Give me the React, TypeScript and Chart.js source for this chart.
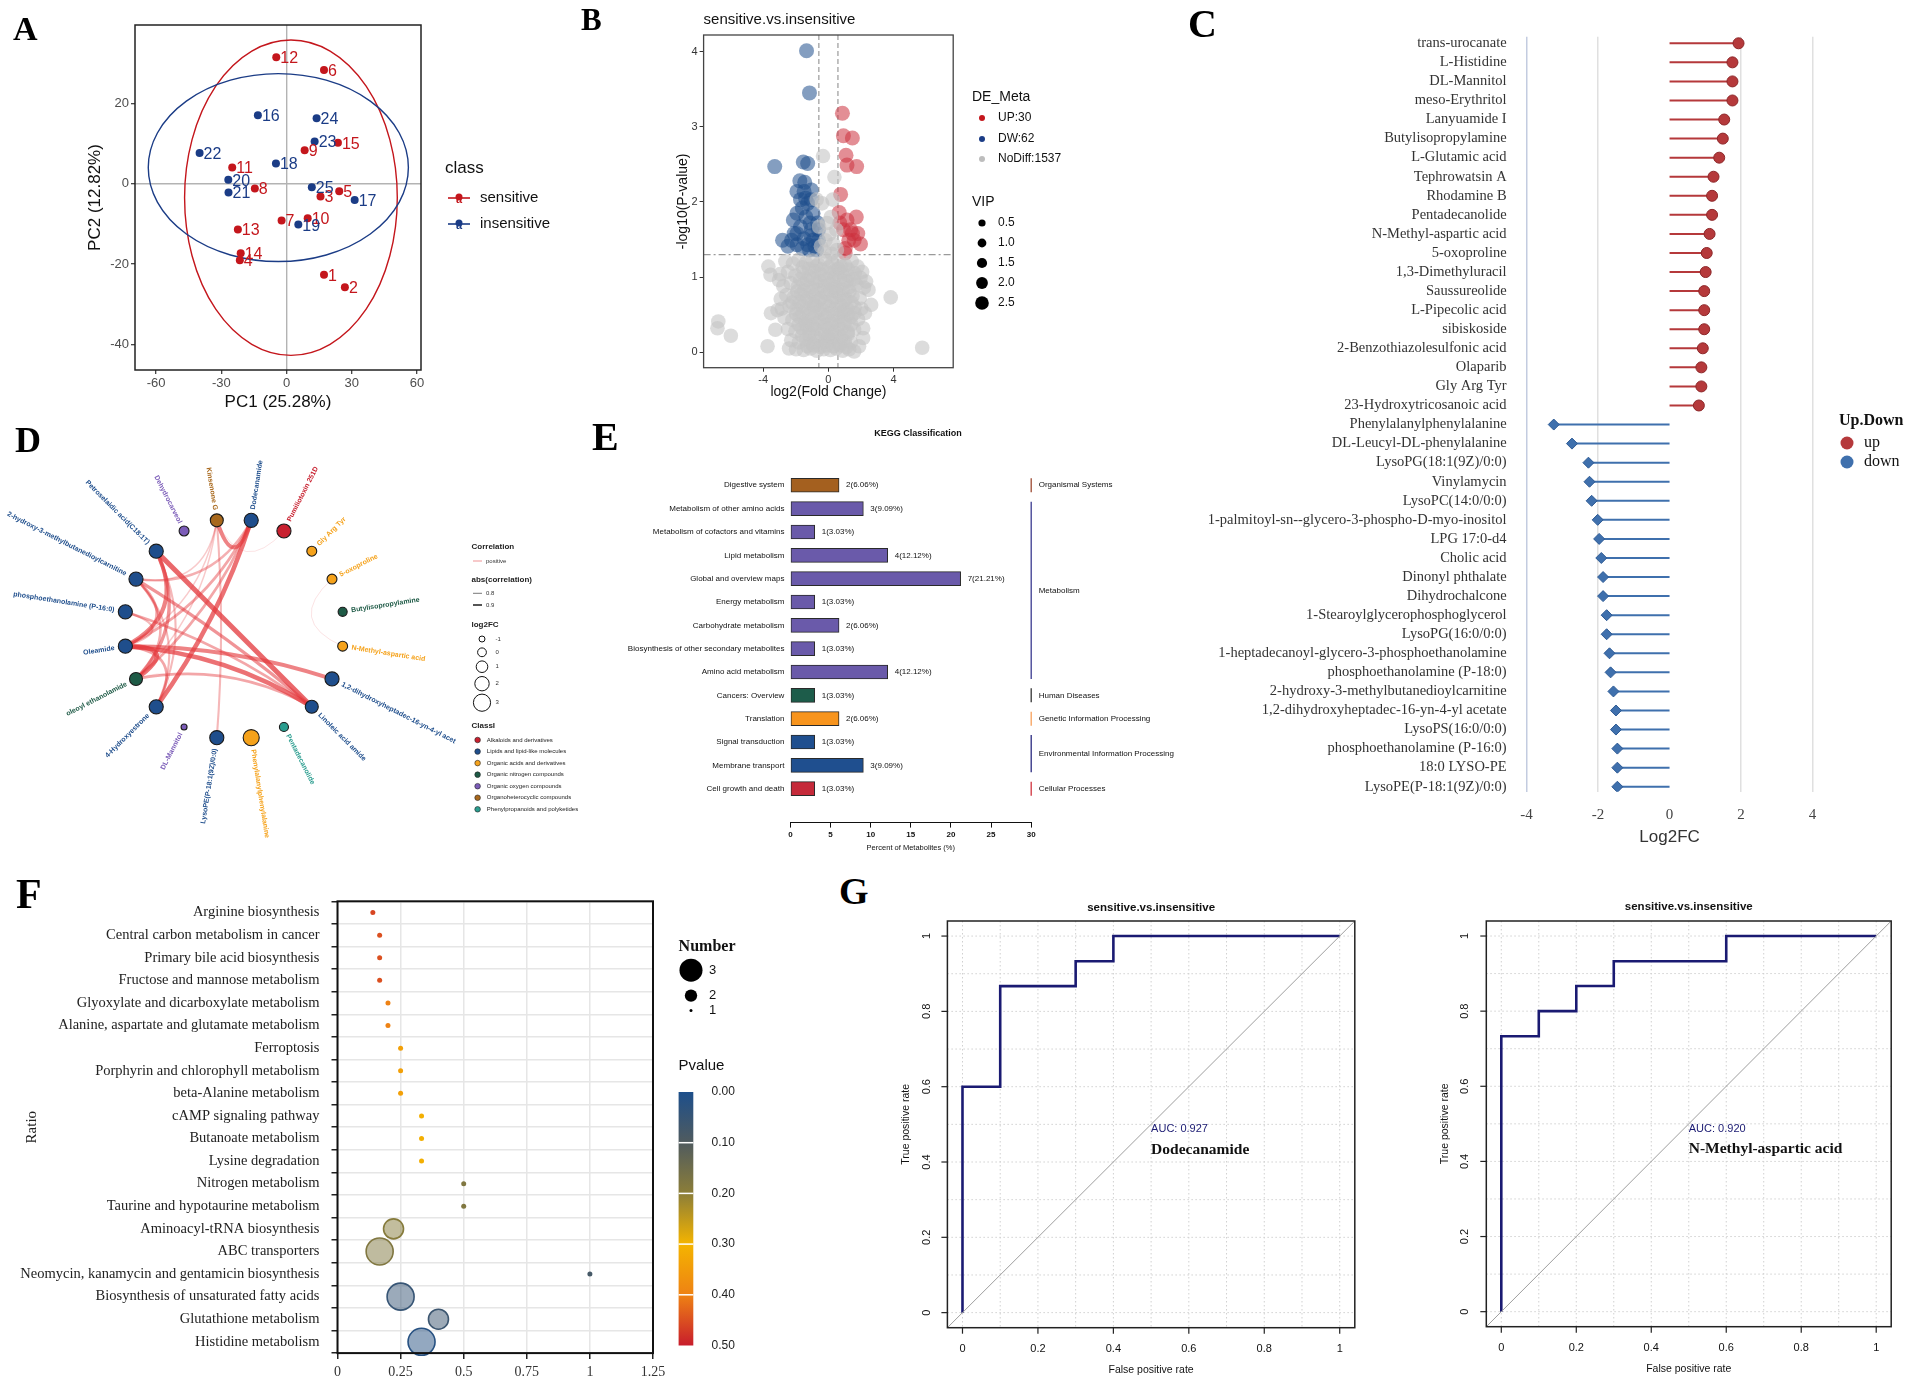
import React, { useEffect, useRef } from "react";
import { Chart, registerables } from "chart.js";

Chart.register(...registerables);

const SANS = '"Liberation Sans", Arial, Helvetica, sans-serif';
const SERIF = '"Liberation Serif", "Times New Roman", Times, serif';

/* ================= A : PCA ================= */
const pcaSensitiveLabels = ["1", "2", "3", "4", "5", "6", "7", "8", "9", "10", "11", "12", "13", "14", "15"];
const pcaSensitivePC1 = [17.2, 26.8, 15.6, -21.5, 24.2, 17.2, -2.3, -14.6, 8.3, 9.7, -25.0, -4.75, -22.4, -21.1, 23.6];
const pcaSensitivePC2 = [-22.7, -25.8, -3.2, -19.1, -1.9, 28.3, -9.2, -1.2, 8.3, -8.6, 4.0, 31.5, -11.4, -17.3, 10.2];
const pcaInsensitiveLabels = ["16", "17", "18", "19", "20", "21", "22", "23", "24", "25"];
const pcaInsensitivePC1 = [-13.2, 31.3, -4.9, 5.4, -26.8, -26.7, -40.0, 12.9, 13.8, 11.6];
const pcaInsensitivePC2 = [17.0, -4.1, 5.0, -10.2, 1.0, -2.2, 7.6, 10.5, 16.3, -0.9];
// confidence ellipses: [sensitive, insensitive]
const pcaEllipseCX = [2.0, -3.8];
const pcaEllipseCY = [-3.5, 4.0];
const pcaEllipseRX = [48.9, 59.8];
const pcaEllipseRY = [39.25, 23.4];
const pcaXTicks = [-60, -30, 0, 30, 60];
const pcaYTicks = [-40, -20, 0, 20];

/* ================= B : volcano ================= */
const volcanoUp: number[][] = [
  [0.86, 3.18], [0.92, 2.88], [1.47, 2.85], [1.08, 2.62], [1.14, 2.49], [1.73, 2.47], [0.75, 2.1], [0.66, 1.86],
  [1.71, 1.8], [1.14, 1.76], [1.36, 1.63], [0.92, 1.63], [1.8, 1.58], [1.97, 1.44], [1.03, 1.32], [1.58, 1.49],
  [1.25, 1.49], [0.7, 1.72], [1.03, 1.38], [1.47, 1.58],
];
const volcanoDown: number[][] = [
  [-1.34, 4.01], [-1.16, 3.45], [-3.29, 2.47], [-1.54, 2.53], [-1.27, 2.51], [-1.45, 2.26], [-1.49, 2.14], [-1.05, 2.16],
  [-1.93, 2.14], [-1.71, 2.03], [-1.27, 1.98], [-0.94, 1.85], [-1.93, 1.85], [-1.38, 1.8], [-2.15, 1.76], [-1.71, 1.67],
  [-1.05, 1.63], [-0.61, 1.63], [-2.81, 1.49], [-2.26, 1.49], [-1.93, 1.58], [-1.49, 1.51], [-0.94, 1.49], [-0.61, 1.49],
  [-1.93, 1.43], [-1.27, 1.43], [-0.83, 1.41], [-2.48, 1.41], [-1.6, 1.38], [-1.16, 1.36], [-0.66, 1.72], [-1.12, 1.72],
  [-1.05, 2.03], [-1.6, 1.92], [-1.75, 2.28], [-2.1, 1.58], [-1.05, 1.55], [-0.72, 1.36], [-1.4, 2.05],
];
const volcanoNoDiff: number[][] = [
  [-0.33, 2.61], [0.37, 2.33], [0.26, 2.03], [-0.39, 1.98], [0.15, 1.8], [0.48, 1.63], [-0.18, 1.49], [-0.72, 2.03],
  [-0.57, 1.67], [0.05, 1.57], [-0.08, 1.72], [0.31, 1.44], [-0.46, 1.41], [0.52, 1.36], [0.21, 1.31], [-0.23, 1.34],
  [-6.75, 0.41], [-6.8, 0.32], [-5.98, 0.22], [-3.73, 0.08], [-3.25, 0.3], [-3.52, 0.52], [3.82, 0.73], [5.75, 0.06],
  [2.24, 0.52], [2.46, 0.83], [2.13, 0.32], [2.13, 0.19], [1.58, 0.01], [-3.68, 1.14], [-3.55, 1.03], [-3.03, 0.96],
  [2.07, 1.07], [2.31, 0.94], [-2.92, 0.71], [-3.12, 0.56], [2.62, 0.63], [-2.41, 0.05], [1.88, 0.08],
  [-2.64, 1.21], [-2.17, 1.18], [-1.83, 1.23], [-1.38, 1.19], [-0.97, 1.22], [-0.62, 1.17], [-0.19, 1.24], [0.23, 1.19],
  [0.58, 1.22], [1.04, 1.16], [1.43, 1.21], [1.79, 1.14],
  [-2.96, 1.04], [-2.48, 1.07], [-2.03, 1.02], [-1.61, 1.06], [-1.17, 1.01], [-0.81, 1.08], [-0.42, 1.03], [0.02, 1.06],
  [0.39, 1.01], [0.83, 1.07], [1.21, 1.02], [1.62, 1.05], [1.97, 0.99],
  [-2.77, 0.88], [-2.31, 0.92], [-1.88, 0.87], [-1.52, 0.91], [-1.08, 0.86], [-0.72, 0.93], [-0.28, 0.88], [0.12, 0.91],
  [0.51, 0.86], [0.93, 0.92], [1.32, 0.87], [1.71, 0.9], [2.18, 0.86],
  [-2.58, 0.76], [-2.12, 0.73], [-1.69, 0.77], [-1.29, 0.72], [-0.88, 0.76], [-0.49, 0.71], [-0.11, 0.77], [0.31, 0.73],
  [0.68, 0.76], [1.09, 0.71], [1.48, 0.75], [1.92, 0.72],
  [-2.86, 0.58], [-2.39, 0.62], [-1.98, 0.57], [-1.58, 0.61], [-1.21, 0.58], [-0.79, 0.62], [-0.41, 0.57], [0.03, 0.61],
  [0.42, 0.58], [0.79, 0.62], [1.18, 0.57], [1.61, 0.6], [2.02, 0.58],
  [-2.69, 0.46], [-2.21, 0.43], [-1.79, 0.47], [-1.41, 0.42], [-0.99, 0.46], [-0.61, 0.43], [-0.19, 0.47], [0.22, 0.42],
  [0.61, 0.46], [0.98, 0.43], [1.39, 0.47], [1.82, 0.44],
  [-2.48, 0.31], [-2.02, 0.28], [-1.62, 0.32], [-1.18, 0.27], [-0.82, 0.31], [-0.38, 0.29], [0.01, 0.32], [0.41, 0.28],
  [0.79, 0.31], [1.19, 0.27], [1.58, 0.3],
  [-2.28, 0.16], [-1.81, 0.13], [-1.39, 0.17], [-1.02, 0.12], [-0.59, 0.16], [-0.21, 0.13], [0.19, 0.17], [0.62, 0.12],
  [1.01, 0.15], [1.38, 0.13],
  [-1.98, 0.04], [-1.52, 0.03], [-1.09, 0.05], [-0.71, 0.02], [-0.29, 0.04], [0.12, 0.03], [0.48, 0.05], [0.88, 0.02],
  [1.27, 0.04], [-0.52, 0.95], [0.63, 1.11], [-1.31, 0.36], [0.94, 0.55], [-0.05, 0.2], [-0.9, 0.62], [0.35, 0.85],
  [-1.58, 1.13], [-1.19, 1.11], [-0.77, 1.14], [-0.41, 1.1], [0.04, 1.13], [0.43, 1.09], [0.79, 1.14], [1.22, 1.1],
  [-1.73, 0.97], [-1.31, 0.96], [-0.93, 0.98], [-0.09, 0.97], [0.3, 0.96], [0.71, 0.98], [1.12, 0.95], [1.52, 0.97],
  [-1.91, 0.81], [-1.49, 0.82], [-1.07, 0.8], [-0.68, 0.83], [-0.29, 0.8], [0.11, 0.82], [0.49, 0.8], [0.89, 0.83],
  [1.29, 0.81], [-2.21, 0.66], [-1.77, 0.67], [-1.39, 0.68], [-0.98, 0.66], [-0.59, 0.69], [-0.21, 0.66], [0.21, 0.68],
  [0.61, 0.66], [0.99, 0.69], [1.41, 0.66], [-1.98, 0.51], [-1.59, 0.52], [-1.18, 0.5], [-0.79, 0.53], [-0.4, 0.51],
  [0.0, 0.52], [0.4, 0.5], [0.81, 0.53], [1.2, 0.5], [1.6, 0.52], [-1.82, 0.37], [-1.4, 0.38], [-0.99, 0.36],
  [-0.6, 0.39], [-0.19, 0.37], [0.21, 0.38], [0.6, 0.36], [1.0, 0.39], [1.4, 0.37], [-1.61, 0.22], [-1.19, 0.23],
  [-0.8, 0.21], [-0.4, 0.24], [0.0, 0.22], [0.41, 0.23], [0.8, 0.21], [1.19, 0.24], [-1.3, 0.08], [-0.9, 0.09],
  [-0.5, 0.07], [-0.1, 0.09], [0.3, 0.08], [0.7, 0.09], [1.1, 0.07],
];
const volcanoXTicks = [-4, 0, 4];
const volcanoYTicks = [0, 1, 2, 3, 4];
const fcCut = 0.585;
const pCut = 1.3;

/* ================= C : lollipop ================= */
const lolliUpNames = [
  "trans-urocanate", "L-Histidine", "DL-Mannitol", "meso-Erythritol", "Lanyuamide I", "Butylisopropylamine",
  "L-Glutamic acid", "Tephrowatsin A", "Rhodamine B", "Pentadecanolide", "N-Methyl-aspartic acid", "5-oxoproline",
  "1,3-Dimethyluracil", "Saussureolide", "L-Pipecolic acid", "sibiskoside", "2-Benzothiazolesulfonic acid",
  "Olaparib", "Gly Arg Tyr", "23-Hydroxytricosanoic acid",
];
const lolliUpFC = [1.93, 1.76, 1.76, 1.76, 1.53, 1.49, 1.39, 1.23, 1.19, 1.19, 1.12, 1.04, 1.01, 0.97, 0.97, 0.97, 0.93, 0.89, 0.89, 0.82];
const lolliDownNames = [
  "Phenylalanylphenylalanine", "DL-Leucyl-DL-phenylalanine", "LysoPG(18:1(9Z)/0:0)", "Vinylamycin",
  "LysoPC(14:0/0:0)", "1-palmitoyl-sn--glycero-3-phospho-D-myo-inositol", "LPG 17:0-d4", "Cholic acid",
  "Dinonyl phthalate", "Dihydrochalcone", "1-Stearoylglycerophosphoglycerol", "LysoPG(16:0/0:0)",
  "1-heptadecanoyl-glycero-3-phosphoethanolamine", "phosphoethanolamine (P-18:0)",
  "2-hydroxy-3-methylbutanedioylcarnitine", "1,2-dihydroxyheptadec-16-yn-4-yl acetate", "LysoPS(16:0/0:0)",
  "phosphoethanolamine (P-16:0)", "18:0 LYSO-PE", "LysoPE(P-18:1(9Z)/0:0)",
];
const lolliDownFC = [-3.24, -2.73, -2.27, -2.24, -2.18, -2.01, -1.97, -1.91, -1.86, -1.86, -1.76, -1.76, -1.68, -1.65, -1.57, -1.5, -1.5, -1.46, -1.46, -1.46];
const lolliXTicks = [-4, -2, 0, 2, 4];

/* ================= D : correlation chord ================= */
const nodeNames = [
  "Dodecanamide", "Pumiliotoxin 251D", "Gly Arg Tyr", "5-oxoproline", "Butylisopropylamine", "N-Methyl-aspartic acid",
  "1,2-dihydroxyheptadec-16-yn-4-yl acet", "Linoleic acid amide", "Pentadecanolide", "Phenylalanylphenylalanine",
  "LysoPE(P-18:1(9Z)/0:0)", "DL-Mannitol", "4-Hydroxyestrone", "oleoyl ethanolamide", "Oleamide",
  "phosphoethanolamine (P-16:0)", "2-hydroxy-3-methylbutanedioylcarnitine", "Petroselaidic acid(C18:1T)",
  "Dehydrocarveol", "Kinsenone G",
];
const nodeClass = [1, 0, 2, 2, 3, 2, 1, 1, 6, 2, 1, 4, 1, 3, 1, 1, 1, 1, 4, 5];
const nodeLog2FC = [1.9, 1.9, 0.4, 0.4, 0.1, 0.4, 1.9, 1.5, 0.1, 2.6, 1.9, -1.0, 1.9, 1.5, 1.9, 1.9, 1.9, 1.9, 0.4, 1.5];
const className = [
  "Alkaloids and derivatives", "Lipids and lipid-like molecules", "Organic acids and derivatives",
  "Organic nitrogen compounds", "Organic oxygen compounds", "Organoheterocyclic compounds",
  "Phenylpropanoids and polyketides",
];
// [from, to, correlation]
const chordLinks: number[][] = [
  [17, 7, 0.93], [16, 7, 0.88], [15, 7, 0.86], [14, 7, 0.92], [13, 7, 0.86], [14, 6, 0.9], [17, 14, 0.9],
  [17, 13, 0.88], [16, 14, 0.86], [16, 13, 0.85], [14, 13, 0.92], [0, 12, 0.92], [0, 13, 0.86], [0, 14, 0.86],
  [0, 16, 0.85], [0, 19, 0.9], [19, 10, 0.84], [19, 14, 0.82], [19, 13, 0.82], [19, 16, 0.82], [19, 1, 0.8],
  [3, 5, 0.8], [12, 14, 0.86], [12, 16, 0.84], [13, 12, 0.8], [17, 12, 0.84], [15, 14, 0.84],
];
const fcLegendValues = [-1, 0, 1, 2, 3];

/* ================= E : KEGG classification ================= */
const keggCategories = [
  "Digestive system", "Metabolism of other amino acids", "Metabolism of cofactors and vitamins", "Lipid metabolism",
  "Global and overview maps", "Energy metabolism", "Carbohydrate metabolism",
  "Biosynthesis of other secondary metabolites", "Amino acid metabolism", "Cancers: Overview", "Translation",
  "Signal transduction", "Membrane transport", "Cell growth and death",
];
const keggCounts = [2, 3, 1, 4, 7, 1, 2, 1, 4, 1, 2, 1, 3, 1];
const keggPercent = [6.06, 9.09, 3.03, 12.12, 21.21, 3.03, 6.06, 3.03, 12.12, 3.03, 6.06, 3.03, 9.09, 3.03];
const keggGroupOf = [
  "Organismal Systems", "Metabolism", "Metabolism", "Metabolism", "Metabolism", "Metabolism", "Metabolism",
  "Metabolism", "Metabolism", "Human Diseases", "Genetic Information Processing",
  "Environmental Information Processing", "Environmental Information Processing", "Cellular Processes",
];
const keggXTicks = [0, 5, 10, 15, 20, 25, 30];

/* ================= F : enrichment bubble ================= */
const pathNames = [
  "Arginine biosynthesis", "Central carbon metabolism in cancer", "Primary bile acid biosynthesis",
  "Fructose and mannose metabolism", "Glyoxylate and dicarboxylate metabolism",
  "Alanine, aspartate and glutamate metabolism", "Ferroptosis", "Porphyrin and chlorophyll metabolism",
  "beta-Alanine metabolism", "cAMP signaling pathway", "Butanoate metabolism", "Lysine degradation",
  "Nitrogen metabolism", "Taurine and hypotaurine metabolism", "Aminoacyl-tRNA biosynthesis", "ABC transporters",
  "Neomycin, kanamycin and gentamicin biosynthesis", "Biosynthesis of unsaturated fatty acids",
  "Glutathione metabolism", "Histidine metabolism",
];
const pathRatio = [0.14, 0.167, 0.167, 0.167, 0.2, 0.2, 0.25, 0.25, 0.25, 0.333, 0.333, 0.333, 0.5, 0.5, 0.222, 0.167, 1.0, 0.25, 0.4, 0.333];
const pathNumber = [1, 1, 1, 1, 1, 1, 1, 1, 1, 1, 1, 1, 1, 1, 2, 3, 1, 3, 2, 3];
const pathPvalue = [0.46, 0.45, 0.45, 0.45, 0.4, 0.4, 0.34, 0.34, 0.34, 0.31, 0.31, 0.31, 0.18, 0.18, 0.19, 0.18, 0.08, 0.05, 0.06, 0.02];
const pathXTicks = [0, 0.25, 0.5, 0.75, 1, 1.25];
const pvalueTicks = [0, 0.1, 0.2, 0.3, 0.4, 0.5];
const numberLegend = [3, 2, 1];

/* ================= G : ROC ================= */
const roc1FPR = [0, 0, 0.1, 0.1, 0.3, 0.3, 0.4, 0.4, 1];
const roc1TPR = [0, 0.6, 0.6, 0.867, 0.867, 0.933, 0.933, 1, 1];
const roc2FPR = [0, 0, 0.1, 0.1, 0.2, 0.2, 0.3, 0.3, 0.6, 0.6, 1];
const roc2TPR = [0, 0.733, 0.733, 0.8, 0.8, 0.867, 0.867, 0.933, 0.933, 1, 1];
const rocDiagonal = [-0.04, 1.04];
const rocTicks = [0, 0.2, 0.4, 0.6, 0.8, 1];
const rocTickLabels = ["0", "0.2", "0.4", "0.6", "0.8", "1"];
const rocGrid = [0, 0.1, 0.2, 0.3, 0.4, 0.5, 0.6, 0.7, 0.8, 0.9, 1];

/* ================= helpers ================= */
let uid = 0;
function overlay(hook: string, fn: (chart: any, ctx: CanvasRenderingContext2D) => void) {
  const p: any = { id: "ov" + uid++ };
  p[hook] = (chart: any) => {
    const ctx = chart.ctx;
    ctx.save();
    fn(chart, ctx);
    ctx.restore();
  };
  return p;
}
const fnt = (size: number, family = SANS, weight = "normal") => `${weight} ${size}px ${family}`;
function txt(ctx: CanvasRenderingContext2D, s: string, x: number, y: number, font: string, color = "#000",
  align: CanvasTextAlign = "left", base: CanvasTextBaseline = "middle", rot = 0) {
  ctx.save();
  ctx.font = font;
  ctx.fillStyle = color;
  ctx.textAlign = align;
  ctx.textBaseline = base;
  ctx.translate(x, y);
  if (rot) ctx.rotate(rot);
  ctx.fillText(s, 0, 0);
  ctx.restore();
}
function dot(ctx: CanvasRenderingContext2D, x: number, y: number, r: number, fill: string, stroke?: string, lw = 1) {
  ctx.beginPath();
  ctx.arc(x, y, r, 0, Math.PI * 2);
  ctx.fillStyle = fill;
  ctx.fill();
  if (stroke) { ctx.lineWidth = lw; ctx.strokeStyle = stroke; ctx.stroke(); }
}
function line(ctx: CanvasRenderingContext2D, x1: number, y1: number, x2: number, y2: number, color: string, w = 1, dash: number[] = []) {
  ctx.beginPath();
  ctx.setLineDash(dash);
  ctx.moveTo(x1, y1);
  ctx.lineTo(x2, y2);
  ctx.strokeStyle = color;
  ctx.lineWidth = w;
  ctx.stroke();
  ctx.setLineDash([]);
}
function boxArea(ctx: CanvasRenderingContext2D, a: any, color: string, w: number) {
  ctx.strokeStyle = color;
  ctx.lineWidth = w;
  ctx.strokeRect(a.left, a.top, a.right - a.left, a.bottom - a.top);
}
const setTicks = (vals: number[]) => (s: any) => { s.ticks = vals.map((v) => ({ value: v })); };
function common(W: number, R: number, T: number) {
  return {
    animation: false,
    responsive: false,
    maintainAspectRatio: false,
    events: [],
    layout: { padding: { left: 0, top: T, right: W - R, bottom: 0 } },
    plugins: { legend: { display: false }, tooltip: { enabled: false }, title: { display: false } },
  };
}
function hexRgb(h: string) {
  const n = parseInt(h.slice(1), 16);
  return [(n >> 16) & 255, (n >> 8) & 255, n & 255];
}
const pStops: [number, string][] = [[0, "#1d4f8b"], [0.1, "#505b5e"], [0.2, "#8c7e38"], [0.3, "#f4b400"], [0.4, "#ee8214"], [0.5, "#c81d2c"]];
function pColor(p: number, a = 1) {
  let i = 0;
  while (i < pStops.length - 2 && p > pStops[i + 1][0]) i++;
  const [p0, c0] = pStops[i];
  const [p1, c1] = pStops[i + 1];
  const t = Math.max(0, Math.min(1, (p - p0) / (p1 - p0)));
  const A = hexRgb(c0), B = hexRgb(c1);
  const m = A.map((v, k) => Math.round(v + (B[k] - v) * t));
  return `rgba(${m[0]},${m[1]},${m[2]},${a})`;
}

/* ================= builders ================= */
function buildA() {
  const W = 560, H = 420, L = 135, T = 25, R = 421, B = 370;
  const RED = "#c4161c", BLUE = "#1b3c86";
  const zero = (c: any) => (c.tick && c.tick.value === 0 ? "#b3b3b3" : "rgba(0,0,0,0)");
  const ax = (ticks: number[]) => ({
    type: "linear",
    afterBuildTicks: setTicks(ticks),
    grid: { color: zero, lineWidth: 1.4, tickColor: "#333", tickLength: 4, tickWidth: 1.2 },
    border: { display: false },
    ticks: { font: { family: SANS, size: 13 }, color: "#4d4d4d", padding: 2, maxRotation: 0, autoSkip: false },
  });
  return {
    type: "scatter",
    data: {
      datasets: [
        { data: pcaSensitivePC1.map((x, i) => ({ x, y: pcaSensitivePC2[i] })), backgroundColor: RED, borderWidth: 0, pointRadius: 4 },
        { data: pcaInsensitivePC1.map((x, i) => ({ x, y: pcaInsensitivePC2[i] })), backgroundColor: BLUE, borderWidth: 0, pointRadius: 4 },
      ],
    },
    options: {
      ...common(W, R, T),
      scales: {
        x: { ...ax(pcaXTicks), min: -69.7, max: 61.8, afterFit: (s: any) => { s.height = H - B; } },
        y: { ...ax(pcaYTicks), min: -46.4, max: 39.5, afterFit: (s: any) => { s.width = L; } },
      },
    },
    plugins: [
      overlay("beforeDatasetsDraw", (ch, ctx) => {
        const xs = ch.scales.x, ys = ch.scales.y;
        [RED, BLUE].forEach((col, k) => {
          const cx = xs.getPixelForValue(pcaEllipseCX[k]);
          const cy = ys.getPixelForValue(pcaEllipseCY[k]);
          const rx = Math.abs(xs.getPixelForValue(pcaEllipseCX[k] + pcaEllipseRX[k]) - cx);
          const ry = Math.abs(ys.getPixelForValue(pcaEllipseCY[k] + pcaEllipseRY[k]) - cy);
          ctx.beginPath();
          ctx.ellipse(cx, cy, rx, ry, 0, 0, Math.PI * 2);
          ctx.strokeStyle = col;
          ctx.lineWidth = 1.4;
          ctx.stroke();
        });
      }),
      overlay("afterDatasetsDraw", (ch, ctx) => {
        const groups = [pcaSensitiveLabels, pcaInsensitiveLabels];
        [RED, BLUE].forEach((col, k) => {
          ch.getDatasetMeta(k).data.forEach((el: any, i: number) => {
            txt(ctx, groups[k][i], el.x + 4, el.y + 1.5, fnt(16), col, "left", "middle");
          });
        });
      }),
      overlay("afterDraw", (ch, ctx) => {
        const a = ch.chartArea;
        boxArea(ctx, a, "#222", 1.5);
        txt(ctx, "PC1 (25.28%)", (a.left + a.right) / 2, 402, fnt(17), "#111", "center");
        txt(ctx, "PC2 (12.82%)", 95.5, (a.top + a.bottom) / 2, fnt(17), "#111", "center", "middle", -Math.PI / 2);
        txt(ctx, "class", 445, 168, fnt(17), "#111");
        [["sensitive", RED, 198], ["insensitive", BLUE, 224]].forEach(([s, col, y]: any) => {
          line(ctx, 448, y, 470, y, col, 1.6);
          dot(ctx, 459, y - 1, 3.5, col);
          txt(ctx, "a", 459, y + 2, fnt(11, SANS, "bold"), col, "center");
          txt(ctx, s, 480, y, fnt(15), "#111");
        });
      }),
    ],
  };
}

function buildB() {
  const W = 590, H = 420, L = 143.6, T = 35, R = 393.2, B = 367.7;
  const ax = (ticks: number[]) => ({
    type: "linear",
    afterBuildTicks: setTicks(ticks),
    grid: { drawOnChartArea: false, tickColor: "#333", tickLength: 4, tickWidth: 1 },
    border: { display: false },
    ticks: { font: { family: SANS, size: 11 }, color: "#333", padding: 2, maxRotation: 0, autoSkip: false },
  });
  const pts = (arr: number[][]) => arr.map(([x, y]) => ({ x, y }));
  return {
    type: "scatter",
    data: {
      datasets: [
        { data: pts(volcanoNoDiff), backgroundColor: "rgba(196,196,196,0.6)", borderWidth: 0, pointRadius: 7.3 },
        { data: pts(volcanoDown), backgroundColor: "rgba(31,78,140,0.55)", borderWidth: 0, pointRadius: 7.5 },
        { data: pts(volcanoUp), backgroundColor: "rgba(204,50,62,0.55)", borderWidth: 0, pointRadius: 7.5 },
      ],
    },
    options: {
      ...common(W, R, T),
      scales: {
        x: { ...ax(volcanoXTicks), min: -7.65, max: 7.65, afterFit: (s: any) => { s.height = H - B; } },
        y: { ...ax(volcanoYTicks), min: -0.205, max: 4.22, afterFit: (s: any) => { s.width = L; } },
      },
    },
    plugins: [
      overlay("beforeDatasetsDraw", (ch, ctx) => {
        const a = ch.chartArea, xs = ch.scales.x, ys = ch.scales.y;
        [-fcCut, fcCut].forEach((v) => {
          const x = xs.getPixelForValue(v);
          line(ctx, x, a.top, x, a.bottom, "#9a9a9a", 1.2, [5, 3]);
        });
        const y = ys.getPixelForValue(pCut);
        line(ctx, a.left, y, a.right, y, "#9a9a9a", 1.2, [7, 3, 2, 3]);
      }),
      overlay("afterDraw", (ch, ctx) => {
        const a = ch.chartArea;
        boxArea(ctx, a, "#444", 1.3);
        txt(ctx, "sensitive.vs.insensitive", a.left, 20, fnt(15), "#111");
        txt(ctx, "log2(Fold Change)", (a.left + a.right) / 2, 392, fnt(14), "#111", "center");
        txt(ctx, "-log10(P-value)", 123, (a.top + a.bottom) / 2, fnt(14), "#111", "center", "middle", -Math.PI / 2);
        txt(ctx, "DE_Meta", 412, 97, fnt(14), "#111");
        [["UP:30", "#c4161c", 118], ["DW:62", "#1b3c86", 139], ["NoDiff:1537", "#bdbdbd", 159]].forEach(([s, c, y]: any) => {
          dot(ctx, 422, y, 3, c);
          txt(ctx, s, 438, y, fnt(12), "#111");
        });
        txt(ctx, "VIP", 412, 202, fnt(14), "#111");
        [["0.5", 3.6, 223], ["1.0", 4.4, 243], ["1.5", 5.1, 263], ["2.0", 5.9, 283], ["2.5", 6.8, 303]].forEach(([s, r, y]: any) => {
          dot(ctx, 422, y, r, "#000");
          txt(ctx, s, 438, y, fnt(12), "#111");
        });
      }),
    ],
  };
}

function buildC() {
  const W = 757, H = 860, L = 376.6, T = 36.7, R = 662.5, B = 791.7;
  const names = [...lolliUpNames, ...lolliDownNames];
  const UP = "#b5393b", DOWN = "#3f70ad";
  const gridCol = (c: any) => {
    const v = c.tick ? c.tick.value : null;
    if (v === 0) return "rgba(0,0,0,0)";
    if (v === -4) return "#c3cce0";
    return "#e0e0e0";
  };
  return {
    type: "scatter",
    data: {
      datasets: [
        { data: lolliUpFC.map((x, i) => ({ x, y: i })), backgroundColor: UP, borderColor: "#8c2628", borderWidth: 1, pointRadius: 5.5, pointStyle: "circle" },
        { data: lolliDownFC.map((x, i) => ({ x, y: i + lolliUpFC.length })), backgroundColor: DOWN, borderColor: "#2d5a94", borderWidth: 1, pointRadius: 5.5, pointStyle: "rectRot" },
      ],
    },
    options: {
      ...common(W, R, T),
      scales: {
        x: {
          type: "linear", min: -4, max: 4, afterBuildTicks: setTicks(lolliXTicks), afterFit: (s: any) => { s.height = H - B; },
          grid: { color: gridCol, lineWidth: 1.5, drawTicks: false }, border: { display: false },
          ticks: { font: { family: SERIF, size: 15 }, color: "#444", padding: 14, maxRotation: 0, autoSkip: false },
        },
        y: {
          type: "linear", reverse: true, min: -0.346, max: 39.26, afterFit: (s: any) => { s.width = L; },
          afterBuildTicks: (s: any) => { s.ticks = names.map((_, i) => ({ value: i })); },
          grid: { display: false, drawTicks: false }, border: { display: false },
          ticks: { font: { family: SERIF, size: 14.5 }, color: "#333", padding: 20, autoSkip: false, callback: (v: any) => names[v] },
        },
      },
    },
    plugins: [
      overlay("beforeDatasetsDraw", (ch, ctx) => {
        const x0 = ch.scales.x.getPixelForValue(0);
        [UP, DOWN].forEach((col, k) => {
          ch.getDatasetMeta(k).data.forEach((el: any) => line(ctx, x0, el.y, el.x, el.y, col, 2));
        });
      }),
      overlay("afterDraw", (ch, ctx) => {
        const a = ch.chartArea;
        txt(ctx, "Log2FC", (a.left + a.right) / 2, 837, fnt(17), "#333", "center");
        txt(ctx, "Up.Down", 689, 421, fnt(16, SERIF, "bold"), "#111");
        dot(ctx, 697, 443, 6.5, UP);
        txt(ctx, "up", 714, 443, fnt(16, SERIF), "#111");
        dot(ctx, 697, 462, 6.5, DOWN);
        txt(ctx, "down", 714, 462, fnt(16, SERIF), "#111");
      }),
    ],
  };
}

const classColors = ["#c8202f", "#1f4e8c", "#f5a21b", "#1e5a46", "#7b5cb8", "#a8681c", "#2a9d8f"];
const fcRadius = (v: number) => 3 + 1.4 * (v + 1);

function buildD() {
  return {
    type: "radar",
    data: {
      labels: nodeNames,
      datasets: [{
        data: nodeNames.map(() => 1),
        pointRadius: nodeLog2FC.map(fcRadius),
        pointHoverRadius: nodeLog2FC.map(fcRadius),
        pointBackgroundColor: nodeClass.map((c) => classColors[c]),
        pointBorderColor: "#1a1a1a",
        pointBorderWidth: 1.1,
        showLine: false,
        borderWidth: 0,
        backgroundColor: "rgba(0,0,0,0)",
        fill: false,
        clip: false,
      }],
    },
    options: {
      animation: false, responsive: false, maintainAspectRatio: false, events: [],
      layout: { padding: { left: 124, right: 236, top: 89, bottom: 101 } },
      plugins: { legend: { display: false }, tooltip: { enabled: false } },
      scales: {
        r: {
          min: 0, max: 1, startAngle: 9,
          ticks: { display: false }, grid: { display: false }, angleLines: { display: false }, pointLabels: { display: false },
        },
      },
    },
    plugins: [
      overlay("beforeDatasetsDraw", (ch, ctx) => {
        const sc = ch.scales.r;
        const pts = ch.getDatasetMeta(0).data;
        const cx = sc.xCenter, cy = sc.yCenter;
        chordLinks.forEach(([a, b, c]) => {
          const p = pts[a], q = pts[b];
          const mx = (p.x + q.x) / 2, my = (p.y + q.y) / 2;
          const kx = cx + (mx - cx) * 0.5, ky = cy + (my - cy) * 0.5;
          ctx.beginPath();
          ctx.moveTo(p.x, p.y);
          ctx.quadraticCurveTo(kx, ky, q.x, q.y);
          const w = Math.max(0.8, 0.8 + (c - 0.8) * 32);
          const al = Math.min(0.9, 0.18 + (c - 0.8) * 4.5);
          ctx.strokeStyle = `rgba(228,58,62,${al})`;
          ctx.lineWidth = w;
          ctx.stroke();
        });
      }),
      overlay("afterDatasetsDraw", (ch, ctx) => {
        const sc = ch.scales.r;
        nodeNames.forEach((name, i) => {
          const r = fcRadius(nodeLog2FC[i]);
          const pos = sc.getPointPosition(i, sc.drawingArea + r + 4);
          const ang = pos.angle;
          const onRight = sc.getIndexAngle(i) < Math.PI;
          txt(ctx, name, pos.x, pos.y, fnt(7, SANS, "bold"), classColors[nodeClass[i]], onRight ? "left" : "right", "middle", onRight ? ang : ang + Math.PI);
        });
        // legend
        const oy = 430;
        txt(ctx, "Correlation", 471.5, 546.7 - oy, fnt(8, SANS, "bold"), "#222");
        line(ctx, 473, 561 - oy, 482, 561 - oy, "rgba(228,58,62,0.45)", 1.2);
        txt(ctx, "positive", 486, 561 - oy, fnt(6), "#333");
        txt(ctx, "abs(correlation)", 471.5, 580 - oy, fnt(8, SANS, "bold"), "#222");
        line(ctx, 473, 593.3 - oy, 482, 593.3 - oy, "#555", 0.8);
        txt(ctx, "0.8", 486, 593.3 - oy, fnt(6), "#333");
        line(ctx, 473, 605 - oy, 482, 605 - oy, "#555", 2);
        txt(ctx, "0.9", 486, 605 - oy, fnt(6), "#333");
        txt(ctx, "log2FC", 471.5, 624.3 - oy, fnt(8, SANS, "bold"), "#222");
        const ly = [639, 652.3, 666.7, 683.7, 702.7];
        fcLegendValues.forEach((v, k) => {
          ctx.beginPath();
          ctx.arc(482, ly[k] - oy, fcRadius(v), 0, Math.PI * 2);
          ctx.strokeStyle = "#111";
          ctx.lineWidth = 1;
          ctx.stroke();
          txt(ctx, String(v), 495.6, ly[k] - oy, fnt(6), "#333");
        });
        txt(ctx, "ClassI", 471.5, 725.7 - oy, fnt(8, SANS, "bold"), "#222");
        className.forEach((s, k) => {
          const y = 740 + k * 11.55 - oy;
          dot(ctx, 477.6, y, 2.8, classColors[k], "#222", 0.6);
          txt(ctx, s, 486.8, y, fnt(6), "#222");
        });
      }),
    ],
  };
}

const groupBar: Record<string, string> = {
  "Organismal Systems": "#a4601f", Metabolism: "#6a5aaa", "Human Diseases": "#1d5c4a",
  "Genetic Information Processing": "#f7941d", "Environmental Information Processing": "#1f4f8f", "Cellular Processes": "#c52a3a",
};
const groupLine: Record<string, string> = {
  "Organismal Systems": "#9c4a32", Metabolism: "#3a3a8f", "Human Diseases": "#333333",
  "Genetic Information Processing": "#f7a05a", "Environmental Information Processing": "#2a2a80", "Cellular Processes": "#d0343f",
};

function buildE() {
  const W = 610, H = 460, L = 210.4, T = 60.7, R = 451.2, B = 422.6;
  return {
    type: "bar",
    data: {
      datasets: [{
        data: keggPercent.map((x, i) => ({ x, y: i })),
        backgroundColor: keggGroupOf.map((g) => groupBar[g]),
        borderColor: "#2a2a2a",
        borderWidth: 1,
        barThickness: 14,
        borderSkipped: false,
      }],
    },
    options: {
      ...common(W, R, T),
      indexAxis: "y",
      scales: {
        x: {
          type: "linear", min: 0, max: 30, afterBuildTicks: setTicks(keggXTicks), afterFit: (s: any) => { s.height = H - B; },
          grid: { drawOnChartArea: false, tickColor: "#111", tickLength: 5, tickWidth: 1 },
          border: { display: true, color: "#111", width: 1 },
          ticks: { font: { family: SANS, size: 8, weight: "bold" }, color: "#111", padding: 2, maxRotation: 0, autoSkip: false },
        },
        y: {
          type: "linear", reverse: true, min: -0.5, max: 13.9, afterFit: (s: any) => { s.width = L; },
          afterBuildTicks: (s: any) => { s.ticks = keggCategories.map((_, i) => ({ value: i })); },
          grid: { display: false, drawTicks: false }, border: { display: false },
          ticks: { font: { family: SANS, size: 8 }, color: "#111", padding: 6, autoSkip: false, callback: (v: any) => keggCategories[v] },
        },
      },
    },
    plugins: [
      overlay("afterDraw", (ch, ctx) => {
        const xs = ch.scales.x, ys = ch.scales.y;
        ch.getDatasetMeta(0).data.forEach((el: any, i: number) => {
          txt(ctx, `${keggCounts[i]}(${keggPercent[i].toFixed(2)}%)`, el.x + 7, el.y, fnt(8), "#111");
        });
        const xl = xs.getPixelForValue(30);
        let s = 0;
        for (let i = 1; i <= keggGroupOf.length; i++) {
          if (i === keggGroupOf.length || keggGroupOf[i] !== keggGroupOf[s]) {
            const g = keggGroupOf[s];
            const y1 = ys.getPixelForValue(s - 0.3), y2 = ys.getPixelForValue(i - 1 + 0.3);
            line(ctx, xl, y1, xl, y2, groupLine[g], 1.3);
            txt(ctx, g, xl + 7.5, (y1 + y2) / 2, fnt(8), "#111");
            s = i;
          }
        }
        txt(ctx, "KEGG Classification", 338, 33.3, fnt(9, SANS, "bold"), "#111", "center");
        txt(ctx, "Percent of Metabolites (%)", (ch.chartArea.left + ch.chartArea.right) / 2, 447.6, fnt(7.5), "#111", "center");
      }),
    ],
  };
}

function buildF() {
  const W = 760, H = 540, L = 337.5, T = 61.3, R = 653, B = 513.1;
  const rOf: Record<number, number> = { 1: 2.5, 2: 10, 3: 13.5 };
  return {
    type: "bubble",
    data: {
      datasets: [{
        data: pathNames.map((n, i) => ({ x: pathRatio[i], y: n, r: rOf[pathNumber[i]] })),
        backgroundColor: pathPvalue.map((p, i) => pColor(p, pathNumber[i] > 1 ? 0.5 : 1)),
        borderColor: pathPvalue.map((p) => pColor(p, 1)),
        borderWidth: pathNumber.map((n) => (n > 1 ? 1.6 : 0)),
        clip: false,
      }],
    },
    options: {
      ...common(W, R, T),
      scales: {
        x: {
          type: "linear", min: 0, max: 1.25, afterBuildTicks: setTicks(pathXTicks), afterFit: (s: any) => { s.height = H - B; },
          grid: { color: "#e6e6e6", lineWidth: 1.5, tickColor: "#222", tickLength: 6, tickWidth: 1.5 }, border: { display: false },
          ticks: { font: { family: SERIF, size: 14 }, color: "#333", padding: 5, maxRotation: 0, autoSkip: false, callback: (v: any) => String(v) },
        },
        y: {
          type: "category", labels: pathNames, offset: true, afterFit: (s: any) => { s.width = L; },
          grid: { offset: true, color: "#e6e6e6", lineWidth: 1.5, tickColor: "#222", tickLength: 6, tickWidth: 1.5 }, border: { display: false },
          ticks: { font: { family: SERIF, size: 14.5 }, color: "#222", padding: 12, autoSkip: false },
        },
      },
    },
    plugins: [
      overlay("afterDraw", (ch, ctx) => {
        const a = ch.chartArea;
        boxArea(ctx, a, "#111", 2);
        txt(ctx, "Ratio", 32, (a.top + a.bottom) / 2, fnt(15, SERIF), "#222", "center", "middle", -Math.PI / 2);
        txt(ctx, "Number", 678.6, 106.7, fnt(16, SERIF, "bold"), "#111");
        const ly = [130.2, 155.6, 170.5], lr = [11.5, 6.2, 1.5];
        numberLegend.forEach((n, k) => {
          dot(ctx, 691, ly[k], lr[k], "#000");
          txt(ctx, String(n), 709, ly[k], fnt(13), "#111");
        });
        txt(ctx, "Pvalue", 678.6, 225.5, fnt(15), "#111");
        const top = 252, bot = 505.5, x0 = 678.6, x1 = 693.3;
        const g = ctx.createLinearGradient(0, top, 0, bot);
        pStops.forEach(([p, c]) => g.addColorStop(p / 0.5, c));
        ctx.fillStyle = g;
        ctx.fillRect(x0, top, x1 - x0, bot - top);
        pvalueTicks.forEach((p) => {
          const y = top + (bot - top) * (p / 0.5);
          if (p > 0 && p < 0.5) line(ctx, x0, y, x1, y, "#ffffff", 1.5);
          txt(ctx, p.toFixed(2), 711.6, y, fnt(12), "#222");
        });
      }),
    ],
  };
}

function buildG(fpr: number[], tpr: number[], auc: string, name: string, dims: any) {
  const { W, H, L, T, R, B, ylx, ytx, xly, xty, tly } = dims;
  return {
    type: "scatter",
    data: {
      datasets: [
        { data: rocDiagonal.map((v) => ({ x: v, y: v })), showLine: true, borderColor: "#9e9e9e", borderWidth: 1, pointRadius: 0 },
        { data: fpr.map((x, i) => ({ x, y: tpr[i] })), showLine: true, borderColor: "#1a1a72", borderWidth: 2.6, pointRadius: 0, tension: 0 },
      ],
    },
    options: {
      ...common(W, R, T),
      scales: {
        x: { type: "linear", min: -0.04, max: 1.04, afterFit: (s: any) => { s.height = H - B; }, ticks: { display: false }, grid: { display: false }, border: { display: false } },
        y: { type: "linear", min: -0.04, max: 1.04, afterFit: (s: any) => { s.width = L; }, ticks: { display: false }, grid: { display: false }, border: { display: false } },
      },
    },
    plugins: [
      overlay("beforeDatasetsDraw", (ch, ctx) => {
        const a = ch.chartArea, xs = ch.scales.x, ys = ch.scales.y;
        rocGrid.forEach((v) => {
          const x = xs.getPixelForValue(v), y = ys.getPixelForValue(v);
          line(ctx, x, a.top, x, a.bottom, "#d0d0d0", 1, [1.5, 2.5]);
          line(ctx, a.left, y, a.right, y, "#d0d0d0", 1, [1.5, 2.5]);
        });
      }),
      overlay("afterDraw", (ch, ctx) => {
        const a = ch.chartArea, xs = ch.scales.x, ys = ch.scales.y;
        boxArea(ctx, a, "#222", 1.5);
        rocTicks.forEach((v, k) => {
          const x = xs.getPixelForValue(v), y = ys.getPixelForValue(v);
          line(ctx, x, a.bottom, x, a.bottom + 6, "#222", 1.2);
          line(ctx, a.left - 6, y, a.left, y, "#222", 1.2);
          txt(ctx, rocTickLabels[k], x, xly, fnt(11), "#111", "center");
          txt(ctx, rocTickLabels[k], ylx, y, fnt(11), "#111", "center", "middle", -Math.PI / 2);
        });
        txt(ctx, "sensitive.vs.insensitive", (a.left + a.right) / 2, tly, fnt(11.5, SANS, "bold"), "#111", "center");
        txt(ctx, "False positive rate", (a.left + a.right) / 2, xty, fnt(10.5), "#111", "center");
        txt(ctx, "True positive rate", ytx, (a.top + a.bottom) / 2, fnt(10.5), "#111", "center", "middle", -Math.PI / 2);
        const tx = xs.getPixelForValue(0.5);
        txt(ctx, auc, tx, ys.getPixelForValue(0.487), fnt(11), "#1a1a72", "left");
        txt(ctx, name, tx, ys.getPixelForValue(0.432), fnt(15.5, SERIF, "bold"), "#111", "left");
      }),
    ],
  };
}

/* ================= components ================= */
function ChartCanvas({ x, y, w, h, build }: { x: number; y: number; w: number; h: number; build: () => any }) {
  const ref = useRef<HTMLCanvasElement | null>(null);
  useEffect(() => {
    if (!ref.current) return;
    const chart = new Chart(ref.current, build());
    return () => chart.destroy();
  }, []);
  return <canvas ref={ref} width={w} height={h} style={{ position: "absolute", left: x, top: y, width: w, height: h }} />;
}

function Letter({ s, x, cy, size }: { s: string; x: number; cy: number; size: number }) {
  return (
    <div style={{ position: "absolute", left: x, top: cy - 0.508 * size, fontFamily: SERIF, fontWeight: "bold", fontSize: size, lineHeight: `${size}px`, color: "#000" }}>
      {s}
    </div>
  );
}

export default function App() {
  useEffect(() => {
    document.body.style.margin = "0";
    document.body.style.background = "#ffffff";
  }, []);
  return (
    <div style={{ position: "absolute", left: 0, top: 0, width: 1907, height: 1380, background: "#fff", overflow: "hidden" }}>
      <ChartCanvas x={0} y={0} w={560} h={420} build={buildA} />
      <ChartCanvas x={560} y={0} w={590} h={420} build={buildB} />
      <ChartCanvas x={1150} y={0} w={757} h={860} build={buildC} />
      <ChartCanvas x={0} y={430} w={580} h={410} build={buildD} />
      <ChartCanvas x={580} y={400} w={610} h={460} build={buildE} />
      <ChartCanvas x={0} y={840} w={760} h={540} build={buildF} />
      <ChartCanvas x={880} y={880} w={490} h={500}
        build={() => buildG(roc1FPR, roc1TPR, "AUC: 0.927", "Dodecanamide", { W: 490, H: 500, L: 67.4, T: 41, R: 474.8, B: 447.7, ylx: 46.7, ytx: 26, xly: 468.6, xty: 490.6, tly: 28 })} />
      <ChartCanvas x={1420} y={880} w={487} h={500}
        build={() => buildG(roc2FPR, roc2TPR, "AUC: 0.920", "N-Methyl-aspartic acid", { W: 487, H: 500, L: 66.3, T: 41, R: 471.2, B: 446.7, ylx: 44.6, ytx: 24.8, xly: 467.6, xty: 489, tly: 27 })} />
      <Letter s="A" x={13} cy={29} size={34} />
      <Letter s="B" x={581} cy={20} size={31} />
      <Letter s="C" x={1188} cy={24} size={40} />
      <Letter s="D" x={15} cy={440} size={36} />
      <Letter s="E" x={592} cy={437} size={40} />
      <Letter s="F" x={16} cy={894} size={42} />
      <Letter s="G" x={839} cy={891} size={38} />
    </div>
  );
}
